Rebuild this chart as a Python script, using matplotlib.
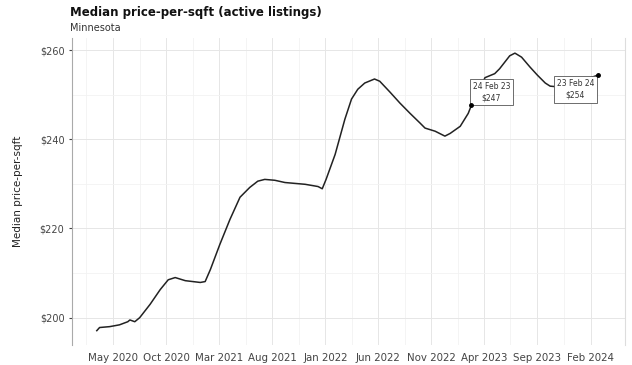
import numpy as np
import pandas as pd
import matplotlib
matplotlib.use('Agg')
import matplotlib.pyplot as plt
import matplotlib.dates as mdates

# values
dates = ['2020-03-16', '2020-03-24', '2020-04-22', '2020-05-20', '2020-06-13',
         '2020-06-19', '2020-07-03', '2020-07-17', '2020-08-16', '2020-09-14',
         '2020-10-07', '2020-10-27', '2020-11-25', '2021-01-07', '2021-01-21',
         '2021-02-05', '2021-03-04', '2021-04-02', '2021-05-01', '2021-05-29',
         '2021-06-21', '2021-07-11', '2021-08-09', '2021-09-07', '2021-10-06',
         '2021-11-04', '2021-12-11', '2021-12-23', '2022-01-03', '2022-01-29',
         '2022-02-26', '2022-03-17', '2022-04-04', '2022-04-24', '2022-05-22',
         '2022-06-06', '2022-07-05', '2022-08-03', '2022-09-01', '2022-09-30',
         '2022-10-14', '2022-11-12', '2022-12-10', '2022-12-25', '2023-01-23',
         '2023-02-15', '2023-02-24', '2023-03-11', '2023-04-04', '2023-05-02',
         '2023-05-16', '2023-06-14', '2023-06-29', '2023-07-18', '2023-08-11',
         '2023-09-01', '2023-09-24', '2023-10-08', '2023-11-05', '2023-12-20',
         '2024-02-23']
prices = [197.1, 197.8, 198.0, 198.4, 199.1,
          199.5, 199.1, 200.0, 203.0, 206.3,
          208.5, 209.0, 208.3, 207.9, 208.1,
          210.8, 216.4, 222.0, 227.0, 229.2,
          230.6, 231.0, 230.8, 230.3, 230.1,
          229.9, 229.4, 228.9, 231.0, 236.6,
          244.5, 249.0, 251.2, 252.6, 253.5,
          253.0, 250.6, 248.1, 245.8, 243.6,
          242.5, 241.8, 240.7, 241.3, 242.9,
          245.8, 247.6, 249.6, 253.8, 254.7,
          255.8, 258.7, 259.3, 258.4, 256.2,
          254.4, 252.6, 251.9, 251.7, 252.6,
          254.4]

tick_dates = ['2020-05-01', '2020-10-01', '2021-03-01', '2021-08-01', '2022-01-01',
              '2022-06-01', '2022-11-01', '2023-04-01', '2023-09-01', '2024-02-01']
tick_labels = ['May 2020', 'Oct 2020', 'Mar 2021', 'Aug 2021', 'Jan 2022',
               'Jun 2022', 'Nov 2022', 'Apr 2023', 'Sep 2023', 'Feb 2024']
y_ticks = [200, 220, 240, 260]

notes = [('2023-02-24', 247.6, '24 Feb 23\n$247'),
         ('2024-02-23', 254.4, '23 Feb 24\n$254')]

dt = pd.to_datetime(dates)

fig = plt.figure(figsize=(6.32, 3.65), dpi=100)
ax = fig.add_axes((0.114, 0.055, 0.875, 0.841))

ax.plot(dt, prices, color='#222222', lw=1.1, zorder=3)

ax.set_xlim(pd.Timestamp('2020-01-05'), pd.Timestamp('2024-05-10'))
ax.set_ylim(193.9, 262.7)

ax.set_xticks(pd.to_datetime(tick_dates))
ax.set_xticklabels(tick_labels)
ax.set_yticks(y_ticks)
ax.set_yticklabels(['${}'.format(v) for v in y_ticks])

# faint minor grid, like the reference
ax.set_xticks(pd.to_datetime(tick_dates) - pd.DateOffset(months=2) - pd.DateOffset(days=15), minor=True)
ax.set_yticks([210, 230, 250], minor=True)
ax.grid(True, which='major', color='#e6e6e6', lw=0.7)
ax.grid(True, which='minor', color='#f2f2f2', lw=0.6)
ax.tick_params(which='minor', length=0)
ax.tick_params(axis='both', labelsize=7, colors='#444444', length=2)
ax.tick_params(axis='x', labelsize=7.4, length=0, pad=6)

for s in ['top', 'bottom']:
    ax.spines[s].set_visible(False)
ax.spines['left'].set_color('#aaaaaa')
ax.spines['left'].set_linewidth(0.8)
ax.spines['right'].set_color('#dddddd')
ax.spines['right'].set_linewidth(0.8)

ax.set_ylabel('Median price-per-sqft', fontsize=7.5, color='#222222', labelpad=12)

# annotations
box = dict(boxstyle='square,pad=0.35', fc='white', ec='#555555', lw=0.6)
d0, v0, t0 = notes[0]
ax.plot(pd.Timestamp(d0), v0, 'o', color='black', ms=2.5, zorder=6)
ax.annotate(t0, xy=(pd.Timestamp(d0), v0), xytext=(1, 2), textcoords='offset points',
            fontsize=5.5, ha='left', va='bottom', ma='center', color='#333333',
            linespacing=1.4, bbox=box, zorder=5)
d1, v1, t1 = notes[1]
ax.plot(pd.Timestamp(d1), v1, 'o', color='black', ms=2.5, zorder=6)
ax.annotate(t1, xy=(pd.Timestamp(d1), v1), xytext=(-3, -3), textcoords='offset points',
            fontsize=5.5, ha='right', va='top', ma='center', color='#333333',
            linespacing=1.4, bbox=box, zorder=5)

fig.text(0.111, 0.955, 'Median price-per-sqft (active listings)', fontsize=8.5,
         fontweight='bold', color='#111111', va='baseline')
fig.text(0.111, 0.915, 'Minnesota', fontsize=7, color='#333333', va='baseline')

fig.savefig('out.png', dpi=100)
